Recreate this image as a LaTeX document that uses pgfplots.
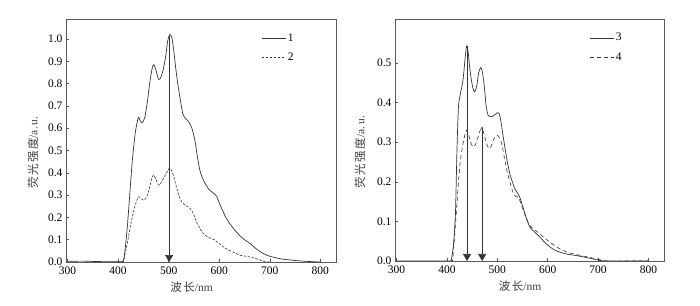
\documentclass[border=0pt]{standalone}
\usepackage{fontspec}
\setmainfont{Liberation Serif}
\newfontfamily\cjk{Noto Sans CJK SC}
\usepackage{pgfplots}
\pgfplotsset{compat=1.18}
\usetikzlibrary{arrows.meta}
\definecolor{ln}{gray}{0.2}
\definecolor{ax}{gray}{0.35}
\newcommand{\cs}{\hspace{1.5pt}}
\begin{document}
\begin{tikzpicture}
\useasboundingbox (0pt,0pt) rectangle (700pt,305pt);
\pgfplotsset{
  myax/.style={
    scale only axis, anchor=south west,
    axis line style={ax, line width=0.6pt},
    tick style={ax, line width=0.5pt}, major tick length=3pt,
    tick align=inside, xtick pos=bottom, ytick pos=left,
    font=\fontsize{11.5}{13}\selectfont,
    /pgf/number format/assume math mode=true,
    xmin=297, xmax=831, xtick={300,400,...,800},
    xticklabel style={yshift=-1pt},
    yticklabel style={/pgf/number format/fixed,/pgf/number format/precision=1,/pgf/number format/fixed zerofill},
    xlabel={{\cjk 波\cs 长}/nm},
    ylabel={{\cjk 荧\cs 光\cs 强\cs 度}/a.\,u.},
    label style={text=black!75},
    xlabel style={at={(axis description cs:0.465,-0.103)},anchor=center},
    legend style={draw=none, fill=none, row sep=6pt, font=\fontsize{11.5}{13}\selectfont, anchor=north west},
    legend cell align=left,
    legend image code/.code={\draw[##1] (0pt,0pt) -- (24pt,0pt);},
  }
}
% left panel
\begin{axis}[myax, at={(66pt,43pt)}, width=270pt, height=243pt,
  ymin=0, ymax=1.09, ytick={0,0.1,...,1.0},
  ylabel style={at={(axis description cs:-0.122,0.45)},anchor=center},
  legend style={at={(axis description cs:0.711,0.955)}}]
\addplot[ln, line width=0.7pt, smooth, tension=0.4] coordinates {
(300,0.003) (330,0.004) (360,0.002) (400,0.001) (408,0.002) (412,0.02) (418,0.15) (423,0.3) (428,0.45) (434,0.58) (440,0.648) (444,0.632) (448,0.625) (453,0.65) (458,0.72) (463,0.81) (468,0.875) (471,0.885) (475,0.86) (480,0.82) (484,0.825) (489,0.86) (494,0.92) (498,0.99) (502,1.02) (506,1.01) (510,0.95) (514,0.87) (518,0.8) (523,0.73) (528,0.665) (533,0.645) (540,0.628) (546,0.6) (552,0.545) (557,0.47) (562,0.41) (568,0.37) (574,0.345) (580,0.325) (588,0.31) (595,0.295) (600,0.265) (606,0.235) (612,0.205) (620,0.175) (630,0.145) (640,0.12) (650,0.1) (660,0.085) (670,0.065) (680,0.048) (690,0.035) (700,0.026) (720,0.015) (740,0.009) (760,0.005) (780,0.002) (800,0.0)};
\addlegendentry{1}
\addplot[ln, line width=0.6pt, dash pattern=on 2.5pt off 1.5pt, smooth, tension=0.4] coordinates {
(400,0) (410,0) (413,0.03) (418,0.08) (424,0.157) (430,0.22) (436,0.27) (440,0.293) (445,0.285) (451,0.277) (456,0.29) (461,0.32) (466,0.37) (470,0.39) (474,0.375) (479,0.35) (482,0.345) (486,0.36) (491,0.38) (496,0.4) (501,0.42) (505,0.415) (510,0.385) (515,0.34) (520,0.3) (526,0.27) (533,0.255) (540,0.245) (546,0.23) (551,0.205) (556,0.175) (562,0.15) (568,0.13) (575,0.115) (582,0.108) (590,0.1) (596,0.09) (604,0.075) (612,0.062) (622,0.05) (632,0.04) (642,0.03) (655,0.025) (666,0.02) (676,0.012) (686,0.005) (693,0) (700,0)};
\addlegendentry{2}
\addplot[ln, line width=0.7pt, -{Triangle[width=8pt,length=7pt]}, forget plot] coordinates {(501,1.015) (501,0)};
\end{axis}
% right panel
\begin{axis}[myax, at={(395pt,44pt)}, width=269pt, height=242pt,
  ymin=0, ymax=0.611, ytick={0,0.1,...,0.5},
  ylabel style={at={(axis description cs:-0.13,0.45)},anchor=center},
  legend style={at={(axis description cs:0.71,0.958)}}]
\addplot[ln, line width=0.7pt, smooth, tension=0.4] coordinates {
(300,0) (405,0) (409,0.005) (413,0.04) (417,0.12) (420,0.28) (423,0.39) (427,0.423) (432,0.457) (436,0.51) (439,0.543) (442,0.53) (446,0.48) (451,0.44) (455,0.427) (459,0.44) (463,0.475) (467,0.488) (470,0.48) (474,0.445) (478,0.39) (482,0.368) (488,0.364) (494,0.368) (499,0.373) (503,0.374) (507,0.355) (511,0.32) (515,0.288) (520,0.25) (525,0.22) (530,0.2) (535,0.182) (540,0.172) (545,0.16) (550,0.14) (555,0.119) (560,0.1) (565,0.085) (575,0.072) (585,0.06) (595,0.046) (605,0.035) (615,0.027) (625,0.022) (640,0.017) (658,0.0135) (680,0.008) (698,0.003) (711,0) (740,0) (800,0)};
\addlegendentry{3}
\addplot[ln, line width=0.6pt, dash pattern=on 4pt off 3pt, smooth, tension=0.4] coordinates {
(405,0) (411,0.002) (414,0.04) (418,0.11) (422,0.18) (426,0.246) (432,0.296) (436,0.32) (439,0.33) (443,0.32) (447,0.3) (452,0.288) (457,0.295) (462,0.313) (466,0.33) (469,0.334) (472,0.328) (476,0.31) (480,0.292) (484,0.284) (488,0.29) (492,0.305) (496,0.314) (500,0.317) (504,0.312) (509,0.296) (514,0.262) (519,0.229) (525,0.2) (532,0.17) (537,0.163) (542,0.161) (547,0.145) (552,0.127) (558,0.107) (565,0.089) (575,0.078) (585,0.068) (595,0.057) (605,0.047) (615,0.038) (625,0.03) (640,0.022) (658,0.016) (680,0.01) (698,0.005) (717,0) (760,0) (800,0)};
\addlegendentry{4}
\addplot[ln, line width=0.7pt, -{Triangle[width=8pt,length=7pt]}, forget plot] coordinates {(440,0.543) (440,0)};
\addplot[ln, line width=0.7pt, {Circle[length=2pt]}-{Triangle[width=8pt,length=7pt]}, forget plot] coordinates {(470,0.338) (470,0)};
\end{axis}
\end{tikzpicture}
\end{document}
